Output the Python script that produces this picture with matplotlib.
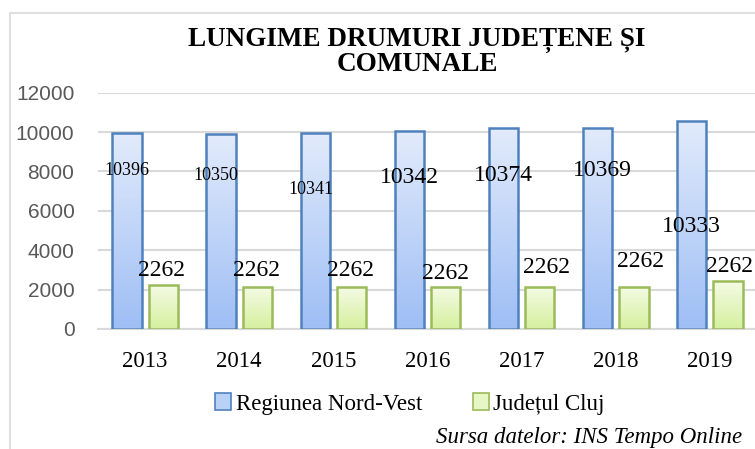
import numpy as np
import matplotlib
matplotlib.use("Agg")
import matplotlib.pyplot as plt
from matplotlib.patches import Rectangle, Patch

# data
years = ["2013", "2014", "2015", "2016", "2017", "2018", "2019"]
regiune = [9930, 9880, 9960, 10050, 10190, 10220, 10580]
cluj = [2250, 2150, 2150, 2150, 2150, 2150, 2420]
# values printed as data labels in the original chart
regiune_labels = ["10396", "10350", "10341", "10342", "10374", "10369", "10333"]
cluj_labels = ["2262", "2262", "2262", "2262", "2262", "2262", "2262"]

# where the labels sit (data units) and their sizes
regiune_lab_y = [8030, 7780, 7060, 7670, 7820, 8030, 5230]
regiune_lab_dx = [0, -0.055, -0.04, 0, 0, 0.05, 0]
regiune_lab_fs = [13, 13, 13, 17, 17, 17, 17]
cluj_lab_y = [2960, 2960, 2960, 2840, 3100, 3450, 3150]
cluj_lab_dx = [-0.02, -0.01, -0.01, 0, 0.07, 0.065, 0.02]

serif = "Liberation Serif"
sans = "Liberation Sans"

fig = plt.figure(figsize=(7.55, 4.49), dpi=100)
fig.patch.set_facecolor("white")

# outer chart frame
fig.patches.append(Rectangle((10 / 755, -0.1), 1.2, (449 - 13) / 449 + 0.1,
                             transform=fig.transFigure, fill=False,
                             edgecolor="#d9d9d9", linewidth=1.2))

ax = fig.add_axes([98 / 755, 120 / 449, 659 / 755, 236.3 / 449])
x = np.arange(len(years))
w = 0.311
off = 0.193


def gradient_bars(bars, top, bottom):
    grad = np.linspace(0, 1, 256).reshape(-1, 1)
    c1 = np.array(matplotlib.colors.to_rgb(top))
    c2 = np.array(matplotlib.colors.to_rgb(bottom))
    img = c1 * (1 - grad[..., None]) + c2 * grad[..., None]
    for b in bars:
        bx, by = b.get_x(), b.get_y()
        bw, bh = b.get_width(), b.get_height()
        im = ax.imshow(img, extent=[bx, bx + bw, by, by + bh], origin="upper",
                       aspect="auto", zorder=2)
        im.set_clip_path(b)


b1 = ax.bar(x - off, regiune, w, facecolor="none", edgecolor="#4f81bd",
            linewidth=1.8, zorder=3)
b2 = ax.bar(x + off, cluj, w, facecolor="none", edgecolor="#9bbb59",
            linewidth=1.8, zorder=3)
gradient_bars(b1, "#e2ebfb", "#9ebef5")
gradient_bars(b2, "#f5fbe6", "#d5f09e")

for i in range(len(years)):
    ax.text(x[i] - off + regiune_lab_dx[i], regiune_lab_y[i], regiune_labels[i],
            ha="center", va="center", fontsize=regiune_lab_fs[i], family=serif, zorder=5)
    ax.text(x[i] + off + cluj_lab_dx[i], cluj_lab_y[i], cluj_labels[i],
            ha="center", va="center", fontsize=17, family=serif, zorder=5)

ax.set_xlim(-0.5, len(years) - 0.5)
ax.set_ylim(0, 12000)
ax.set_yticks(range(0, 12001, 2000))
ax.yaxis.grid(True, color="#d9d9d9", linewidth=1.5, zorder=0)
ax.set_axisbelow(True)
for s in ["top", "right", "left"]:
    ax.spines[s].set_visible(False)
ax.spines["bottom"].set_color("#d9d9d9")
ax.spines["bottom"].set_linewidth(1.5)
ax.tick_params(axis="both", length=0)
ax.tick_params(axis="y", pad=17, labelcolor="#595959", labelsize=15)
ax.tick_params(axis="x", pad=16, labelsize=16.5)
ax.set_xticks(x)
ax.set_xticklabels(years, family=serif)
for t in ax.get_yticklabels():
    t.set_family(sans)

fig.text(417 / 755, 1 - 52 / 449, "LUNGIME DRUMURI JUDEȚENE ȘI\nCOMUNALE",
         ha="center", va="center", fontsize=19.5, fontweight="bold",
         family=serif, linespacing=0.95)

handles = [Patch(facecolor="#b9d0f7", edgecolor="#4f81bd", linewidth=1.2),
           Patch(facecolor="#e6f6c4", edgecolor="#9bbb59", linewidth=1.2)]
fig.legend(handles, ["Regiunea Nord-Vest", "Județul Cluj"], loc="center",
           bbox_to_anchor=(410 / 755, 1 - 404 / 449), ncol=2, frameon=False,
           prop={"family": serif, "size": 16.5}, handlelength=0.7,
           handleheight=0.7, handletextpad=0.2, columnspacing=2.2)

fig.text(742 / 755, 1 - 437 / 449, "Sursa datelor: INS Tempo Online",
         ha="right", va="center", fontsize=16.5, style="italic", family=serif)

fig.savefig("out.png", dpi=100)
